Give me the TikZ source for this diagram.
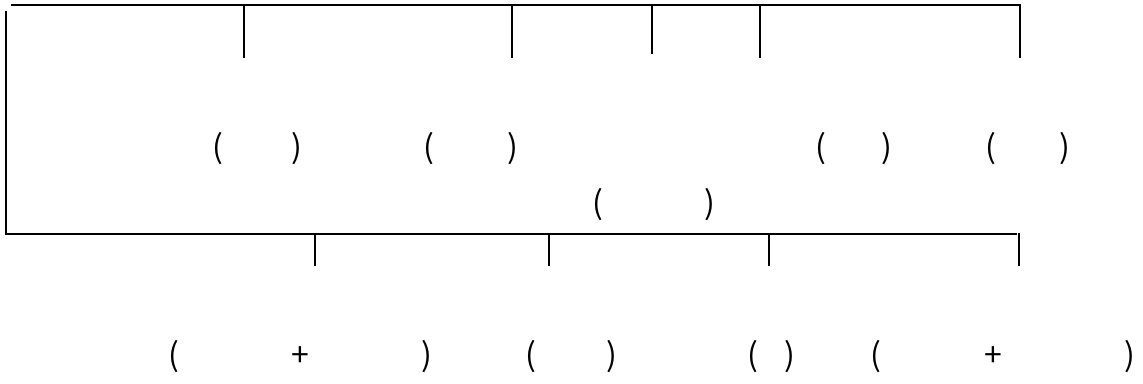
\documentclass[tikz,border=0pt]{standalone}
\usepackage{fontspec}
\setmainfont{Noto Sans CJK SC}
\begin{document}
\begin{tikzpicture}[x=1pt,y=-1pt,
  conn/.style={line width=1.6pt, line cap=rect},
  lbl/.style={inner sep=0pt, anchor=center, font=\fontsize{32}{32}\selectfont}]
\useasboundingbox (0,0) rectangle (1143,383);
% top bus
\coordinate (t0) at (12,5);
\coordinate (t1) at (244,5);   \coordinate (t1b) at (244,57);
\coordinate (t2) at (512,5);   \coordinate (t2b) at (512,57);
\coordinate (t3) at (652,5);   \coordinate (t3b) at (652,53);
\coordinate (t4) at (760,5);   \coordinate (t4b) at (760,57);
\coordinate (t5) at (1020,5);  \coordinate (t5b) at (1020,57);
\draw[conn] (t0) -- (t5);
\foreach \i in {1,...,5} \draw[conn] (t\i) -- (t\i b);
% left side and bottom bus
\coordinate (l0) at (6,12);
\coordinate (b0) at (6,234);
\coordinate (b5) at (1016,234);
\draw[conn] (l0) -- (b0) -- (b5);
\coordinate (u1) at (315,234);  \coordinate (u1b) at (315,265);
\coordinate (u2) at (549,234);  \coordinate (u2b) at (549,265);
\coordinate (u3) at (769,234);  \coordinate (u3b) at (769,265);
\coordinate (u4) at (1019,234); \coordinate (u4b) at (1019,265);
\foreach \i in {1,...,4} \draw[conn] (u\i) -- (u\i b);
% labels row 1
\node[lbl] (na) at (257,149)  {\makebox[90pt]{(\hfill)}};
\node[lbl] (nb) at (470.5,149) {\makebox[95pt]{(\hfill)}};
\node[lbl] (nc) at (853.5,149) {\makebox[77pt]{(\hfill)}};
\node[lbl] (nd) at (1027.5,149) {\makebox[85pt]{(\hfill)}};
% row 2
\node[lbl] (ne) at (653.5,205) {\makebox[123pt]{(\hfill)}};
% row 3
\node[lbl] (nf) at (300,357) {\makebox[264pt]{(\hfill+\hfill)}};
\node[lbl] (ng) at (571,357) {\makebox[92pt]{(\hfill)}};
\node[lbl] (nh) at (771,357) {\makebox[48pt]{(\hfill)}};
\node[lbl] (ni) at (1002.5,357) {\makebox[265pt]{(\hfill+\hspace{19pt}\hfill)}};
\end{tikzpicture}
\end{document}
